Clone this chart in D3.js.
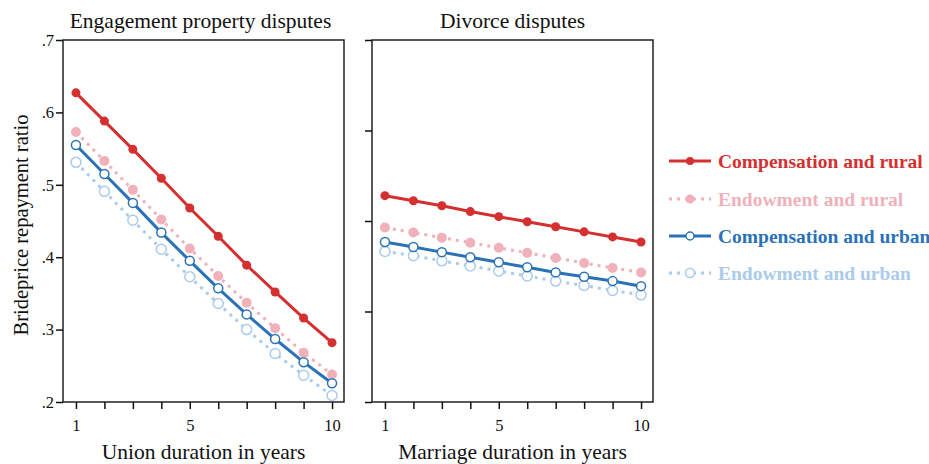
<!DOCTYPE html>
<html><head><meta charset="utf-8">
<script src="https://cdn.jsdelivr.net/npm/d3@7"></script>
<style>body{margin:0;background:#fff}svg{display:block}text{font-family:"Liberation Serif","Times New Roman",serif}</style>
</head><body>
<svg id="c" width="929" height="464"></svg>
<script>
const years = [1,2,3,4,5,6,7,8,9,10];
const panelTitles = ["Engagement property disputes","Divorce disputes"];
const xTitles = ["Union duration in years","Marriage duration in years"];
const yTitle = "Brideprice repayment ratio";
const xTickLabels = [1,5,10];
const yTicksLeft = [0.2,0.3,0.4,0.5,0.6,0.7];
const yTicksRight = [0.2,0.325,0.45,0.575,0.7];
const seriesNames = ["Compensation and rural","Endowment and rural","Compensation and urban","Endowment and urban"];
// engagement property disputes
const engCompRural  = [0.627,0.588,0.549,0.509,0.468,0.429,0.389,0.352,0.316,0.282];
const engEndowRural = [0.573,0.533,0.493,0.452,0.412,0.374,0.337,0.302,0.268,0.238];
const engCompUrban  = [0.555,0.515,0.475,0.434,0.395,0.357,0.321,0.287,0.255,0.226];
const engEndowUrban = [0.531,0.491,0.451,0.411,0.373,0.336,0.300,0.267,0.237,0.209];
// divorce disputes
const divCompRural  = [0.485,0.478,0.471,0.463,0.456,0.449,0.442,0.435,0.428,0.421];
const divEndowRural = [0.441,0.434,0.427,0.420,0.413,0.406,0.399,0.392,0.385,0.379];
const divCompUrban  = [0.421,0.414,0.407,0.400,0.393,0.386,0.379,0.373,0.367,0.360];
const divEndowUrban = [0.408,0.402,0.395,0.388,0.381,0.374,0.367,0.361,0.354,0.348];

const styles = [
  {color:"#d3302f", dash:null, fill:"#d3302f", r:4.5, sw:3},
  {color:"#f0b1bb", dash:"3,5", fill:"#f0b1bb", r:5, sw:3},
  {color:"#2a72b8", dash:null, fill:"#ffffff", r:4.5, sw:3},
  {color:"#abcbec", dash:"3,5", fill:"#ffffff", r:5, sw:3}
];

const svg = d3.select("#c");
const panels = [
  {x0:63, x1:344, data:[engCompRural,engEndowRural,engCompUrban,engEndowUrban], yt:yTicksLeft, labels:true},
  {x0:372, x1:653, data:[divCompRural,divEndowRural,divCompUrban,divEndowUrban], yt:yTicksRight, labels:false}
];
const yTop = 40, yBot = 402;
const y = d3.scaleLinear().domain([0.2,0.7]).range([yBot,yTop]);
const fmt = v => d3.format(".1f")(v).replace(/^0/,"");

panels.forEach((p,pi)=>{
  const x = d3.scaleLinear().domain([0.545,10.42]).range([p.x0,p.x1]);
  const g = svg.append("g");
  g.append("rect").attr("x",p.x0).attr("y",yTop).attr("width",p.x1-p.x0).attr("height",yBot-yTop)
    .attr("fill","none").attr("stroke","#222").attr("stroke-width",1.5);
  const xa = d3.axisBottom(x).tickValues(years).tickSize(7).tickPadding(10)
    .tickFormat(d => xTickLabels.includes(d) ? d : "");
  const gx = g.append("g").attr("transform",`translate(0,${yBot})`).call(xa);
  gx.select(".domain").remove();
  gx.selectAll("line").attr("stroke","#111").attr("stroke-width",1.5);
  gx.selectAll("text").attr("font-size",16.5).attr("fill","#111").attr("font-family","Liberation Serif");
  const ya = d3.axisLeft(y).tickValues(p.yt).tickSize(7).tickPadding(2)
    .tickFormat(d => p.labels ? fmt(d) : "");
  const gy = g.append("g").attr("transform",`translate(${p.x0},0)`).call(ya);
  gy.select(".domain").remove();
  gy.selectAll("line").attr("stroke","#111").attr("stroke-width",1.5);
  gy.selectAll("text").attr("font-size",16.5).attr("fill","#111").attr("font-family","Liberation Serif");
  g.append("text").attr("x",(p.x0+p.x1)/2 - (pi===0?3:0)).attr("y",28).attr("text-anchor","middle")
    .attr("font-size",21.5).attr("fill","#111").text(panelTitles[pi]);
  g.append("text").attr("x",(p.x0+p.x1)/2).attr("y",459).attr("text-anchor","middle")
    .attr("font-size",21.5).attr("fill","#111").text(xTitles[pi]);
  const order = [3,1,2,0];
  order.forEach(si=>{
    const s = styles[si], vals = p.data[si];
    const pts = years.map((yr,i)=>[x(yr), y(vals[i])]);
    g.append("path").attr("d",d3.line()(pts)).attr("fill","none").attr("stroke",s.color)
      .attr("stroke-width",s.sw).attr("stroke-dasharray",s.dash);
    g.selectAll(null).data(pts).enter().append("circle")
      .attr("cx",d=>d[0]).attr("cy",d=>d[1]).attr("r",s.r)
      .attr("fill",s.fill).attr("stroke",s.color).attr("stroke-width",s.fill==="#ffffff"?1.5:0);
  });
});

svg.append("text").attr("transform",`translate(28,${(yTop+yBot)/2+4}) rotate(-90)`)
  .attr("text-anchor","middle").attr("font-size",20.5).attr("fill","#111").text(yTitle);

const lg = svg.append("g");
const legY = [161,199,236,273];
seriesNames.forEach((n,i)=>{
  const s = styles[i];
  lg.append("line").attr("x1",669).attr("x2",711).attr("y1",legY[i]).attr("y2",legY[i])
    .attr("stroke",s.color).attr("stroke-width",s.sw).attr("stroke-dasharray",s.dash);
  lg.append("circle").attr("cx",690).attr("cy",legY[i]).attr("r",s.r-0.5)
    .attr("fill",s.fill).attr("stroke",s.color).attr("stroke-width",s.fill==="#ffffff"?1.5:0);
  lg.append("text").attr("x",718).attr("y",legY[i]).attr("dy","0.35em")
    .attr("font-size",19.5).attr("font-weight","bold").attr("fill",s.color).text(n);
});
</script>
</body></html>
